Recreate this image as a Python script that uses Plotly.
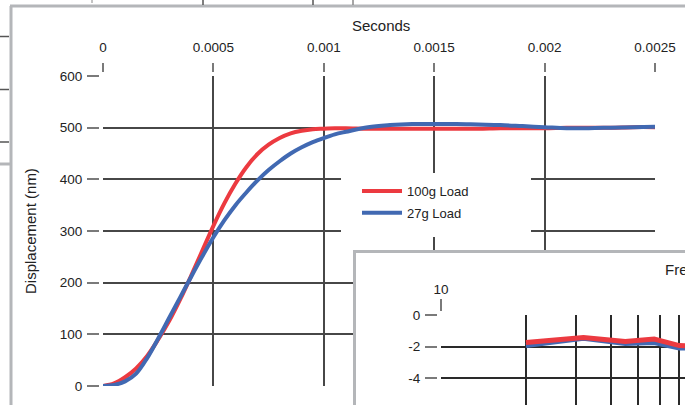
import plotly.graph_objects as go

# ---------------- data ----------------
t_seconds = [0, 0.00005, 0.0001, 0.00015, 0.0002, 0.00025, 0.0003, 0.00035, 0.0004,
             0.00045, 0.0005, 0.00055, 0.0006, 0.00065, 0.0007, 0.00075, 0.0008,
             0.00085, 0.0009, 0.00095, 0.001, 0.00105, 0.0011, 0.0012, 0.0013, 0.0014,
             0.0015, 0.0016, 0.0017, 0.0018, 0.0019, 0.002, 0.0021, 0.0022, 0.0023,
             0.0024, 0.0025]
disp_100g = [0, 5, 17, 34, 58, 90, 126, 168, 214, 262, 310, 354, 392, 424, 449, 467, 480,
             489, 494, 497, 498, 499, 499, 498, 498, 498, 498, 498, 498, 499, 499, 499,
             500, 500, 500, 501, 501]
disp_27g = [0, 2, 9, 24, 54, 92, 132, 172, 212, 251, 288, 321, 350, 375, 398, 418, 435,
            450, 462, 472, 480, 487, 492, 501, 505, 507, 507, 507, 506, 505, 503, 501,
            499, 499, 500, 501, 502]

x_ticks = [0, 0.0005, 0.001, 0.0015, 0.002, 0.0025]
x_tick_labels = ["0", "0.0005", "0.001", "0.0015", "0.002", "0.0025"]
y_ticks = [0, 100, 200, 300, 400, 500, 600]
y_tick_labels = ["0", "100", "200", "300", "400", "500", "600"]

freq_hz = [20, 32, 45, 57, 70, 80]
gain_100g_db = [-1.74, -1.42, -1.67, -1.52, -1.93, -1.95]
gain_27g_db = [-1.93, -1.47, -1.80, -1.74, -2.08, -2.10]
inset_x_ticks = [10]
inset_x_tick_labels = ["10"]
inset_minor_grid = [20, 30, 40, 50, 60, 70, 80, 90]
inset_y_ticks = [0, -2, -4, -6]
inset_y_tick_labels = ["0", "-2", "-4", "-6"]

RED = "#ec3a40"
BLUE = "#4169b2"
GRID = "#474747"
TICK = "#7a7a7a"
PANEL = "#b4b6b9"
FONT = "Liberation Sans"
TXT = "#222222"

W, H = 685, 405
def px(x):
    return x / W
def py(y):
    return 1 - y / H

fig = go.Figure()
fig.add_trace(go.Scatter(x=t_seconds, y=disp_100g, mode="lines", name="100g Load",
                         legendgroup="a",
                         line=dict(color=RED, width=4, shape="spline"), xaxis="x", yaxis="y"))
fig.add_trace(go.Scatter(x=t_seconds, y=disp_27g, mode="lines", name="27g Load",
                         legendgroup="b",
                         line=dict(color=BLUE, width=4, shape="spline"), xaxis="x", yaxis="y"))
# empty trace that creates the white inset panel
fig.add_trace(go.Scatter(x=[], y=[], mode="lines", showlegend=False, hoverinfo="skip",
                         xaxis="x2", yaxis="y2"))
fig.add_trace(go.Scatter(x=freq_hz, y=gain_27g_db, mode="lines", showlegend=False,
                         line=dict(color=BLUE, width=5), xaxis="x3", yaxis="y3"))
fig.add_trace(go.Scatter(x=freq_hz, y=gain_100g_db, mode="lines", showlegend=False,
                         line=dict(color=RED, width=5), xaxis="x3", yaxis="y3"))
# empty trace that creates the white box behind the legend
fig.add_trace(go.Scatter(x=[], y=[], mode="lines", showlegend=False, hoverinfo="skip",
                         xaxis="x4", yaxis="y4"))

tickfont = dict(family=FONT, size=13.5, color=TXT)

shapes = []
def seg(x0, y0, x1, y1, color, width):
    shapes.append(dict(type="line", xref="paper", yref="paper", x0=px(x0), y0=py(y0),
                       x1=px(x1), y1=py(y1), line=dict(color=color, width=width), layer="above"))

# outer panel frame and neighbouring panel fragments
seg(11, 6, 11, 405, PANEL, 3)
seg(10, 6, 685, 6, PANEL, 3)
seg(0, 164, 10, 164, PANEL, 3)
for yy in (36.5, 89.5, 142):
    seg(0, yy, 9, yy, "#555555", 1.5)
for xx in (203, 313):
    seg(xx, 0, xx, 5, "#555555", 1.5)
seg(92, 0, 92, 3, "#888888", 1)
seg(353, 0, 353, 5, "#888888", 1.5)

blank_axis = dict(range=[0, 1], showline=False, showgrid=False, zeroline=False,
                  showticklabels=False, ticks="", fixedrange=True)

fig.update_layout(
    width=W, height=H, margin=dict(l=0, r=0, t=0, b=0, autoexpand=False),
    paper_bgcolor="white", plot_bgcolor="white",
    font=dict(family=FONT, color=TXT),
    xaxis=dict(domain=[px(103), px(655)], range=[0, 0.0025], side="top", anchor="free",
               position=py(72), tickmode="array", tickvals=x_ticks, ticktext=x_tick_labels,
               ticks="outside", ticklen=9, tickwidth=2, tickcolor=TICK, tickfont=tickfont,
               ticklabelstandoff=6,
               showgrid=True, gridcolor=GRID, gridwidth=2, zeroline=False, showline=False,
               fixedrange=True),
    yaxis=dict(domain=[py(386), py(76)], range=[0, 600], anchor="free", position=px(99),
               side="left", tickmode="array", tickvals=y_ticks, ticktext=y_tick_labels,
               ticks="outside", ticklen=12, tickwidth=2, tickcolor=TICK, tickfont=tickfont,
               ticklabelstandoff=2,
               showgrid=True, gridcolor=GRID, gridwidth=2, zeroline=False, showline=False,
               fixedrange=True),
    xaxis2=dict(domain=[px(356), 1], range=[0, 1], anchor="y2", side="top", showline=True,
                linecolor=PANEL, linewidth=3, showgrid=False, zeroline=False,
                showticklabels=False, ticks="", fixedrange=True),
    yaxis2=dict(domain=[0, py(253)], range=[0, 1], anchor="x2", side="left", showline=True,
                linecolor=PANEL, linewidth=3, showgrid=False, zeroline=False,
                showticklabels=False, ticks="", fixedrange=True),
    xaxis3=dict(type="log", domain=[px(441), 1], range=[1, 1.8652], side="top", anchor="free",
                position=py(311), tickmode="array", tickvals=inset_x_ticks,
                ticktext=inset_x_tick_labels, ticks="outside", ticklen=12, tickwidth=2,
                tickcolor=TICK, tickfont=tickfont, showgrid=True, gridcolor="#2a2a2a",
                gridwidth=1.5, zeroline=False, showline=False, fixedrange=True,
                minor=dict(tickmode="array", tickvals=inset_minor_grid, showgrid=True,
                           gridcolor="#2a2a2a", gridwidth=1.5, ticks="")),
    yaxis3=dict(domain=[0, py(315)], range=[-5.685, 0], anchor="free", position=px(437),
                side="left", tickmode="array", tickvals=inset_y_ticks,
                ticktext=inset_y_tick_labels, ticks="outside", ticklen=12, tickwidth=2,
                tickcolor=TICK, tickfont=tickfont, ticklabelstandoff=2,
                showgrid=True, gridcolor="#2a2a2a",
                gridwidth=1.5, zeroline=False, showline=False, fixedrange=True),
    xaxis4=dict(domain=[px(341), px(531)], anchor="y4", **blank_axis),
    yaxis4=dict(domain=[py(237), py(173)], anchor="x4", **blank_axis),
    legend=dict(x=px(357), y=py(176), xanchor="left", yanchor="top", itemwidth=40,
                tracegroupgap=2, bgcolor="rgba(0,0,0,0)",
                font=dict(family=FONT, size=13, color=TXT)),
    shapes=shapes,
    annotations=[
        dict(text="Seconds", xref="paper", yref="paper", x=px(381), y=py(25),
             xanchor="center", yanchor="middle",
             showarrow=False, font=dict(family=FONT, size=15, color=TXT)),
        dict(text="Displacement (nm)", xref="paper", yref="paper", x=px(30), y=py(231),
             xanchor="center", yanchor="middle",
             showarrow=False, textangle=-90, font=dict(family=FONT, size=15, color=TXT)),
        dict(text="Frequency (Hz)", xref="paper", yref="paper", x=px(663), y=py(269),
             xanchor="left", yanchor="middle",
             showarrow=False, font=dict(family=FONT, size=15, color=TXT)),
    ],
)

fig.write_html("out.html", config={"displayModeBar": False},
               post_script="document.body.style.margin='0';")
